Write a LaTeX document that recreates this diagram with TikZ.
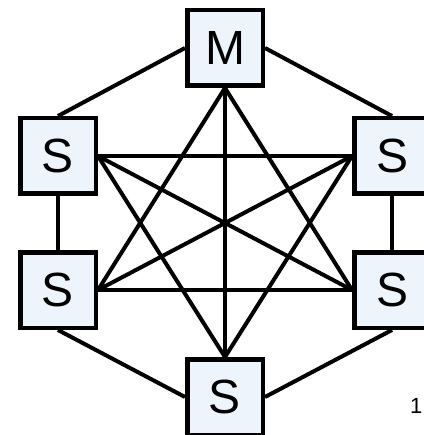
\documentclass[tikz,border=0pt]{standalone}
\usepackage{fontspec}
\setmainfont{Liberation Sans}
\usepackage{xcolor}
\usetikzlibrary{backgrounds}
\definecolor{boxblue}{RGB}{237,244,252}

\begin{document}
\begin{tikzpicture}[x=1pt, y=-1pt,
  unit/.style={draw, line width=4.5pt, fill=boxblue, minimum size=75.5pt,
               inner sep=0pt, font=\fontsize{48}{48}\selectfont},
  link/.style={line width=4pt},
]
\useasboundingbox (0,0) rectangle (423,435);

\node[unit] (m)  at (225,48)  {M};
\node[unit] (ul) at (58,156)  {S};
\node[unit] (ur) at (392,156) {S};
\node[unit] (ll) at (58,290)  {S};
\node[unit] (lr) at (392,290) {S};
\node[unit] (b)  at (225,397) {S};
\node[anchor=west, inner sep=0pt, font=\fontsize{22}{22}\selectfont] (pg) at (410,406) {1};

\begin{scope}[on background layer]
% outer ring
\draw[link] (m.west) -- (ul.north);
\draw[link] (m.east) -- (ur.north);
\draw[link] (ul.south) -- (ll.north);
\draw[link] (ur.south) -- (lr.north);
\draw[link] (ll.south) -- (b.west);
\draw[link] (lr.south) -- (b.east);
% inner star
\draw[link] (m.south) -- (ll.east);
\draw[link] (m.south) -- (lr.west);
\draw[link] (m.south) -- (b.north);
\draw[link] (ul.east) -- (ur.west);
\draw[link] (ul.east) -- (lr.west);
\draw[link] (ul.east) -- (b.north);
\draw[link] (ur.west) -- (ll.east);
\draw[link] (ur.west) -- (b.north);
\draw[link] (ll.east) -- (lr.west);
\end{scope}
\end{tikzpicture}
\end{document}
